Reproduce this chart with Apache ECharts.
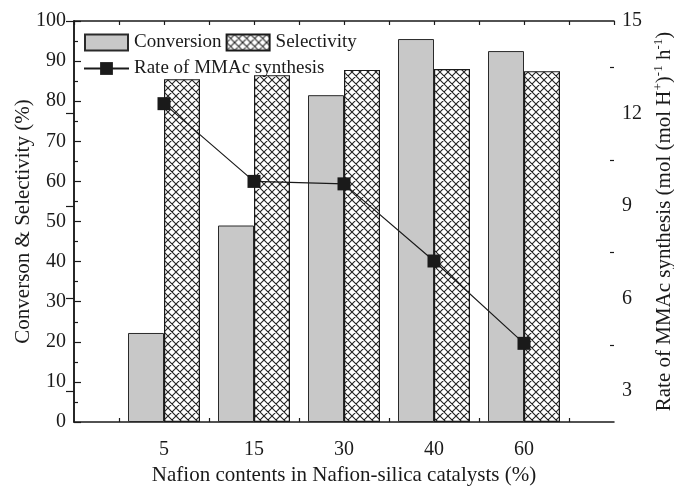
<!DOCTYPE html>
<html>
<head>
<meta charset="utf-8">
<script src="https://cdn.jsdelivr.net/npm/echarts@6/dist/echarts.min.js"></script>
<style>html,body{margin:0;padding:0;background:#fff}#c{width:674px;height:487px}</style>
</head>
<body>
<div id="c"></div>
<script>
// ---- data ----
const categories = ['', '5', '15', '30', '40', '60', ''];
const conversion = ['-', 22.2, 49.0, 81.5, 95.5, 92.5, '-'];
const selectivity = ['-', 85.5, 86.5, 87.8, 88.0, 87.5, '-'];
const rate = ['-', 12.32, 9.8, 9.72, 7.22, 4.55, '-'];
const leftTicks = [0, 10, 20, 30, 40, 50, 60, 70, 80, 90, 100];
const rightTicks = [3, 6, 9, 12, 15];
const rightMinorTicks = [4.5, 7.5, 10.5, 13.5];
const bottomTicks = [0.5, 1.5, 2.5, 3.5, 4.5, 5.5];

function hatch() {
  const s = 8;
  const c = document.createElement('canvas');
  c.width = s; c.height = s;
  const g = c.getContext('2d');
  g.fillStyle = '#fff'; g.fillRect(0, 0, s, s);
  g.strokeStyle = '#222'; g.lineWidth = 1.1;
  g.beginPath();
  for (let k = -1; k <= 1; k++) {
    g.moveTo(k * s, 0); g.lineTo(k * s + s, s);
    g.moveTo(k * s, s); g.lineTo(k * s + s, 0);
  }
  g.stroke();
  return c;
}

const FONT = 'Liberation Serif';
const ink = '#1a1a1a';
const chart = echarts.init(document.getElementById('c'), null, {renderer: 'canvas'});
chart.setOption({
  animation: false,
  textStyle: {fontFamily: FONT, color: ink},
  grid: {left: 74, right: 60, top: 21, bottom: 65, containLabel: false, outerBoundsMode: 'none'},
  legend: [
    {
      data: ['Conversion', 'Selectivity'], left: 84, top: 33, orient: 'horizontal',
      itemWidth: 43, itemHeight: 16, itemGap: 4, padding: 0, icon: 'rect',
      textStyle: {fontFamily: FONT, fontSize: 19, color: ink, padding: [0, 0, 0, 1]}
    },
    {
      data: ['Rate of MMAc synthesis'], left: 83, top: 59,
      itemWidth: 45, itemHeight: 16, padding: 0,
      textStyle: {fontFamily: FONT, fontSize: 19, color: ink}
    }
  ],
  xAxis: [
    {
      type: 'category', data: categories, boundaryGap: false, position: 'bottom',
      axisLine: {lineStyle: {color: ink, width: 1.5}},
      axisTick: {show: false},
      axisLabel: {fontFamily: FONT, fontSize: 20, color: ink, margin: 18},
      name: 'Nafion contents in Nafion-silica catalysts (%)',
      nameLocation: 'middle', nameGap: 43, nameMoveOverlap: false,
      nameTextStyle: {fontFamily: FONT, fontSize: 21, color: ink},
      splitLine: {show: false}
    },
    {
      type: 'value', min: 0, max: 6, position: 'bottom',
      axisLine: {show: false},
      axisTick: {show: true, inside: true, length: 4, customValues: bottomTicks, lineStyle: {color: ink, width: 1.2}},
      axisLabel: {show: false}, splitLine: {show: false}
    },
    {
      type: 'value', min: 0, max: 6, interval: 0.5, position: 'top',
      axisLine: {show: true, lineStyle: {color: ink, width: 1.5}},
      axisTick: {show: true, inside: true, length: 4, lineStyle: {color: ink, width: 1.2}},
      axisLabel: {show: false}, splitLine: {show: false}
    }
  ],
  yAxis: [
    {
      type: 'value', min: 0, max: 100, interval: 10, position: 'left',
      axisLine: {show: true, lineStyle: {color: ink, width: 1.5}},
      axisTick: {show: true, inside: true, length: 7, lineStyle: {color: ink, width: 1.2}},
      minorTick: {show: true, splitNumber: 2, length: 4, lineStyle: {color: ink, width: 1.2}},
      axisLabel: {fontFamily: FONT, fontSize: 20, color: ink, margin: 8, customValues: leftTicks},
      splitLine: {show: false},
      name: 'Converson & Selectivity (%)', nameLocation: 'middle', nameRotate: 90, nameGap: 40,
      nameMoveOverlap: false,
      nameTextStyle: {fontFamily: FONT, fontSize: 21, color: ink}
    },
    {
      type: 'value', min: 2, max: 15, position: 'right',
      axisLine: {show: true, lineStyle: {color: ink, width: 1.5}},
      axisTick: {show: true, inside: true, length: 8, customValues: rightTicks, lineStyle: {color: ink, width: 1.2}},
      axisLabel: {fontFamily: FONT, fontSize: 20, color: ink, margin: 8, customValues: rightTicks},
      splitLine: {show: false},
      name: 'Rate of MMAc synthesis (mol (mol H{sup|+}){sup|-1} h{sup|-1})',
      nameLocation: 'middle', nameRotate: 90, nameGap: 38, nameMoveOverlap: false,
      nameTextStyle: {
        fontFamily: FONT, fontSize: 21, color: ink, lineHeight: 24,
        rich: {sup: {fontFamily: FONT, fontSize: 13, color: ink, verticalAlign: 'top', lineHeight: 13}}
      }
    },
    {
      type: 'value', min: 2, max: 15, position: 'right',
      axisLine: {show: false},
      axisTick: {show: true, inside: true, length: 4, customValues: rightMinorTicks, lineStyle: {color: ink, width: 1.2}},
      axisLabel: {show: false}, splitLine: {show: false}
    }
  ],
  series: [
    {
      name: 'Conversion', type: 'bar', xAxisIndex: 0, yAxisIndex: 0, data: conversion,
      barWidth: 36, barGap: '0%',
      itemStyle: {color: '#c8c8c8', borderColor: '#2a2a2a', borderWidth: 1}
    },
    {
      name: 'Selectivity', type: 'bar', xAxisIndex: 0, yAxisIndex: 0, data: selectivity,
      barWidth: 36, barGap: '0%',
      itemStyle: {color: {image: hatch(), repeat: 'repeat'}, borderColor: '#1a1a1a', borderWidth: 1.2}
    },
    {
      name: 'Rate of MMAc synthesis', type: 'line', xAxisIndex: 0, yAxisIndex: 1, data: rate,
      symbol: 'rect', symbolSize: 13, z: 5,
      lineStyle: {color: ink, width: 1.2},
      itemStyle: {color: ink}
    }
  ]
});
</script>
</body>
</html>
